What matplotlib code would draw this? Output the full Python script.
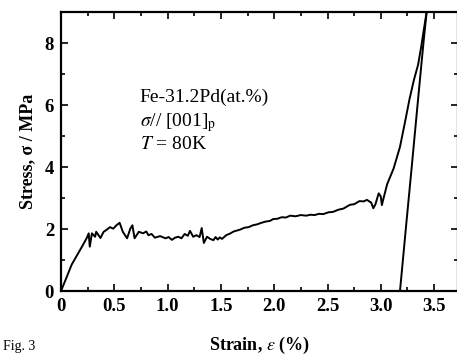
import matplotlib
matplotlib.use("Agg")
import matplotlib.pyplot as plt
from matplotlib.ticker import MultipleLocator

# loading curve (strain %, stress MPa)
load_strain = [0.0, 0.05, 0.10, 0.15, 0.20, 0.24, 0.26, 0.27, 0.29, 0.32, 0.33, 0.37,
               0.40, 0.43, 0.46, 0.49, 0.52, 0.55, 0.58, 0.62, 0.65, 0.67, 0.69, 0.73,
               0.77, 0.80, 0.82, 0.85, 0.88, 0.93, 0.98, 1.01, 1.04, 1.07, 1.10, 1.13,
               1.16, 1.19, 1.21, 1.24, 1.27, 1.30, 1.32, 1.34, 1.37, 1.40, 1.43, 1.45,
               1.47, 1.49, 1.51, 1.55, 1.59, 1.62, 1.65, 1.68, 1.72, 1.76, 1.80, 1.84,
               1.88, 1.92, 1.96, 1.99, 2.03, 2.07, 2.11, 2.15, 2.20, 2.25, 2.30, 2.34,
               2.38, 2.42, 2.46, 2.51, 2.55, 2.60, 2.65, 2.71, 2.75, 2.80, 2.84, 2.87,
               2.91, 2.93, 2.95, 2.98, 3.00, 3.01, 3.03, 3.06, 3.12, 3.18, 3.23, 3.27,
               3.31, 3.35, 3.38, 3.40, 3.43]
load_stress = [0.0, 0.42, 0.85, 1.15, 1.45, 1.70, 1.86, 1.43, 1.86, 1.75, 1.91, 1.71,
               1.91, 1.98, 2.06, 2.01, 2.12, 2.20, 1.91, 1.70, 2.01, 2.12, 1.70, 1.91,
               1.86, 1.92, 1.80, 1.84, 1.72, 1.77, 1.70, 1.74, 1.65, 1.72, 1.75, 1.70,
               1.84, 1.78, 1.94, 1.75, 1.80, 1.74, 2.03, 1.55, 1.75, 1.68, 1.64, 1.74,
               1.66, 1.73, 1.68, 1.80, 1.86, 1.92, 1.95, 1.98, 2.04, 2.06, 2.12, 2.15,
               2.20, 2.24, 2.26, 2.32, 2.33, 2.38, 2.37, 2.43, 2.41, 2.45, 2.43, 2.46,
               2.45, 2.49, 2.48, 2.54, 2.55, 2.62, 2.66, 2.78, 2.80, 2.90, 2.89, 2.94,
               2.85, 2.67, 2.80, 3.15, 3.05, 2.77, 3.05, 3.45, 3.95, 4.65, 5.50, 6.20,
               6.80, 7.30, 7.90, 8.35, 9.00]

# unloading curve
unload_strain = [3.43, 3.40, 3.35, 3.29, 3.24, 3.18]
unload_stress = [9.00, 8.00, 6.20, 4.00, 2.20, 0.00]

x_ticks = [0, 0.5, 1.0, 1.5, 2.0, 2.5, 3.0, 3.5]
x_labels = ["0", "0.5", "1.0", "1.5", "2.0", "2.5", "3.0", "3.5"]
y_ticks = [0, 2, 4, 6, 8]

plt.rcParams['font.family'] = ['Liberation Serif', 'DejaVu Serif']
plt.rcParams['mathtext.fontset'] = 'stix'

W, H = 457, 355
fig = plt.figure(figsize=(W / 100, H / 100), dpi=100)
left, right, bottom, top = 61, 458, 291, 12
ax = fig.add_axes([left / W, (H - bottom) / H, (right - left) / W, (bottom - top) / H])

ax.plot(load_strain, load_stress, color='black', lw=1.4, clip_on=True)
ax.plot(unload_strain, unload_stress, color='black', lw=1.4, clip_on=True)

ax.set_xlim(0, (right - left) / 106.6)
ax.set_ylim(0, 9)
ax.set_xticks(x_ticks)
ax.set_xticklabels(x_labels, fontweight='bold')
ax.set_yticks(y_ticks)
ax.set_yticklabels([str(v) for v in y_ticks], fontweight='bold')
ax.xaxis.set_minor_locator(MultipleLocator(0.25))
ax.yaxis.set_minor_locator(MultipleLocator(1))
ax.tick_params(which='both', direction='in', top=True, right=True, width=1.2,
               labelsize=13.5, colors='black')
ax.tick_params(which='major', length=5, pad=5)
ax.tick_params(which='minor', length=3)
for s in ax.spines.values():
    s.set_linewidth(1.6)

ax.set_xlabel("Strain, $\\varepsilon$ (%)", fontsize=13, fontweight='bold', labelpad=14)
ax.set_ylabel("Stress, σ / MPa", fontsize=13, fontweight='bold', labelpad=6)

ax.text(0.198, 0.695, "Fe-31.2Pd(at.%)", transform=ax.transAxes, fontsize=14,
        va='center', ha='left')
ax.text(0.198, 0.605, "$\\sigma$// [001]$_\\mathrm{p}$", transform=ax.transAxes,
        fontsize=14, va='center', ha='left')
ax.text(0.198, 0.525, "$T$ = 80K", transform=ax.transAxes, fontsize=14,
        va='center', ha='left')

fig.text(3 / W, 2 / H, "Fig. 3", fontsize=10, va='bottom', ha='left')

fig.savefig("out.png", dpi=100)
